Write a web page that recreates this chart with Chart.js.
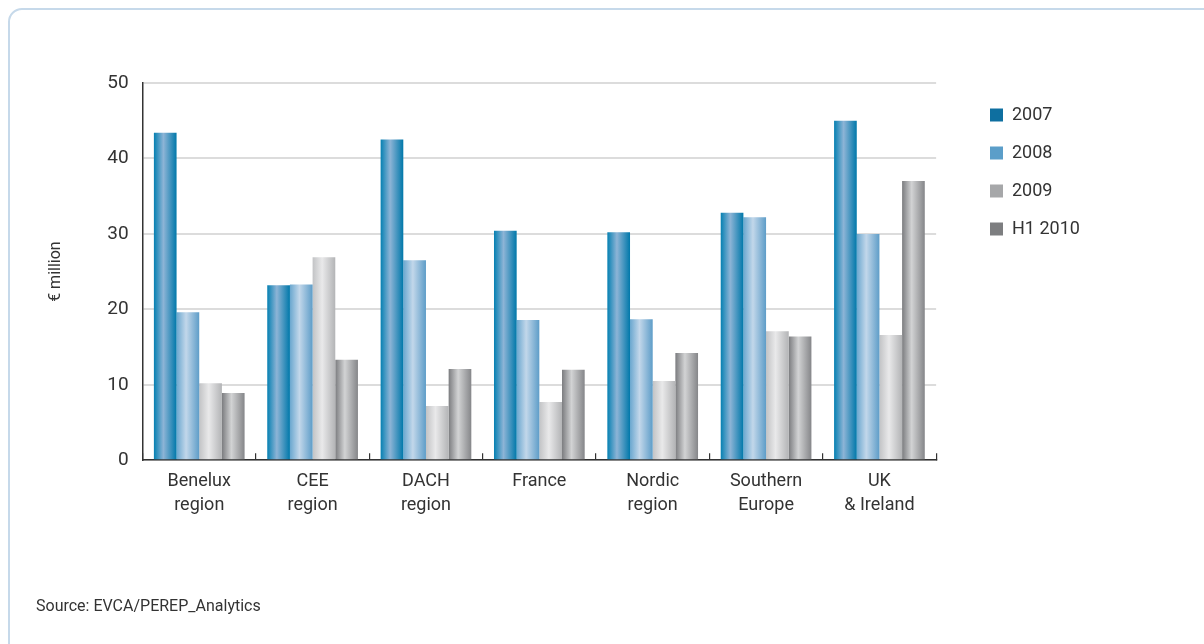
<!DOCTYPE html>
<html>
<head>
<meta charset="utf-8">
<title>Average investment by region</title>
<script src="https://cdn.jsdelivr.net/npm/chart.js@4.4.1/dist/chart.umd.min.js"></script>
<style>
  html, body { margin: 0; padding: 0; background: #fff; }
  body { width: 1204px; height: 644px; position: relative; overflow: hidden;
         font-family: "Roboto", "Liberation Sans", sans-serif; }
  .frame { position: absolute; left: 8px; top: 8px; width: 1210px; height: 650px;
           border: 2px solid #c6d9ea; border-radius: 14px; box-sizing: border-box; }
  #wrap { position: absolute; left: 0; top: 0; width: 1204px; height: 644px; }
  .source { position: absolute; left: 36px; top: 596px; font-size: 16px; color: #333; }
</style>
</head>
<body>
<div class="frame"></div>
<div id="wrap"><canvas id="chart"></canvas></div>
<div class="source">Source: EVCA/PEREP_Analytics</div>
<script>
// Regions along the x axis (two-line labels)
const regions = [
  ["Benelux", "region"],
  ["CEE", "region"],
  ["DACH", "region"],
  ["France"],
  ["Nordic", "region"],
  ["Southern", "Europe"],
  ["UK", "& Ireland"]
];

// Average amount per region, € million
const period2007 = [43.4, 23.2, 42.5, 30.4, 30.2, 32.8, 45.0];
const period2008 = [19.6, 23.3, 26.5, 18.6, 18.7, 32.2, 30.0];
const period2009 = [10.2, 26.9, 7.2, 7.7, 10.5, 17.1, 16.6];
const periodH12010 = [8.9, 13.3, 12.1, 12.0, 14.2, 16.4, 37.0];

const seriesNames = ["2007", "2008", "2009", "H1 2010"];
const yTicks = [0, 10, 20, 30, 40, 50];

// Flat colour for the legend, plus edge / highlight colours for the cylinder shading
const swatch = ["#0e6fa0", "#5b9ec9", "#a6a7a9", "#7d7e80"];
const shade = [
  { edgeL: "#0580b2", mid: "#8db4d6", edgeR: "#0078aa" },
  { edgeL: "#6aa7cf", mid: "#c2d7ea", edgeR: "#5e9dc8" },
  { edgeL: "#c2c3c5", mid: "#e9e9ea", edgeR: "#b3b4b6" },
  { edgeL: "#7b7c7f", mid: "#d2d3d4", edgeR: "#858689" }
];

const FONT = "'Roboto', 'Liberation Sans', sans-serif";
const TEXT = "#333333";
const LEGEND_PAD = 20;
const LEGEND_BOX_X = 990;
const LEGEND_DROP = 3;

// Replace each bar's fill with a horizontal gradient spanning its own width
const cylinderShading = {
  id: "cylinderShading",
  beforeDatasetsDraw(chart) {
    const ctx = chart.ctx;
    chart.data.datasets.forEach((ds, di) => {
      const meta = chart.getDatasetMeta(di);
      const s = shade[di];
      meta.data.forEach(el => {
        const left = el.x - el.width / 2;
        const right = el.x + el.width / 2;
        const g = ctx.createLinearGradient(left, 0, right, 0);
        g.addColorStop(0, s.edgeL);
        g.addColorStop(0.42, s.mid);
        g.addColorStop(1, s.edgeR);
        el.options = Object.assign({}, el.options, { backgroundColor: g });
      });
    });
  }
};

// Leave a gap between the plot and the legend column
const legendOffset = {
  id: "legendOffset",
  beforeDraw(chart) {
    const lg = chart.legend;
    if (!lg) return;
    const w = lg.width, h = lg.height;
    lg.left = LEGEND_BOX_X - LEGEND_PAD;
    lg.right = lg.left + w;
    lg.top = chart.chartArea.top + LEGEND_DROP;
    lg.bottom = lg.top + h;
  }
};

const makeSet = (i, values) => ({
  label: seriesNames[i],
  data: values,
  backgroundColor: () => swatch[i],
  borderWidth: 0,
  categoryPercentage: 0.8,
  barPercentage: 1.0
});

new Chart(document.getElementById("chart"), {
  type: "bar",
  data: {
    labels: regions,
    datasets: [
      makeSet(0, period2007),
      makeSet(1, period2008),
      makeSet(2, period2009),
      makeSet(3, periodH12010)
    ]
  },
  plugins: [cylinderShading, legendOffset],
  options: {
    responsive: true,
    maintainAspectRatio: false,
    animation: false,
    layout: { padding: { left: 46, top: 83, right: 148, bottom: 110 } },
    plugins: {
      tooltip: { enabled: false },
      legend: {
        position: "right",
        align: "start",
        labels: {
          boxWidth: 13,
          boxHeight: 13,
          padding: LEGEND_PAD,
          color: TEXT,
          font: { family: FONT, size: 18 },
          generateLabels(chart) {
            return chart.data.datasets.map((ds, i) => ({
              text: ds.label,
              fillStyle: swatch[i],
              strokeStyle: swatch[i],
              lineWidth: 0,
              hidden: false,
              datasetIndex: i,
              fontColor: TEXT
            }));
          }
        }
      }
    },
    scales: {
      x: {
        grid: {
          offset: true,
          drawOnChartArea: false,
          drawTicks: true,
          tickLength: -7,
          color: "#333333",
          lineWidth: 1.2
        },
        border: { display: true, color: "#333333", width: 1.5 },
        ticks: {
          color: TEXT,
          padding: 17,
          font: { family: FONT, size: 18, lineHeight: 1.3 },
          maxRotation: 0
        }
      },
      y: {
        min: 0,
        max: 50,
        afterBuildTicks(axis) { axis.ticks = yTicks.map(v => ({ value: v })); },
        grid: { color: "#dcdcdc", lineWidth: 2, drawTicks: false },
        border: { display: true, color: "#333333", width: 1.5 },
        ticks: {
          color: TEXT,
          padding: 14,
          font: { family: FONT, size: 19 }
        },
        title: {
          display: true,
          text: "€ million",
          color: TEXT,
          padding: { top: 0, bottom: 28 },
          font: { family: FONT, size: 16 }
        }
      }
    }
  }
});
</script>
</body>
</html>
